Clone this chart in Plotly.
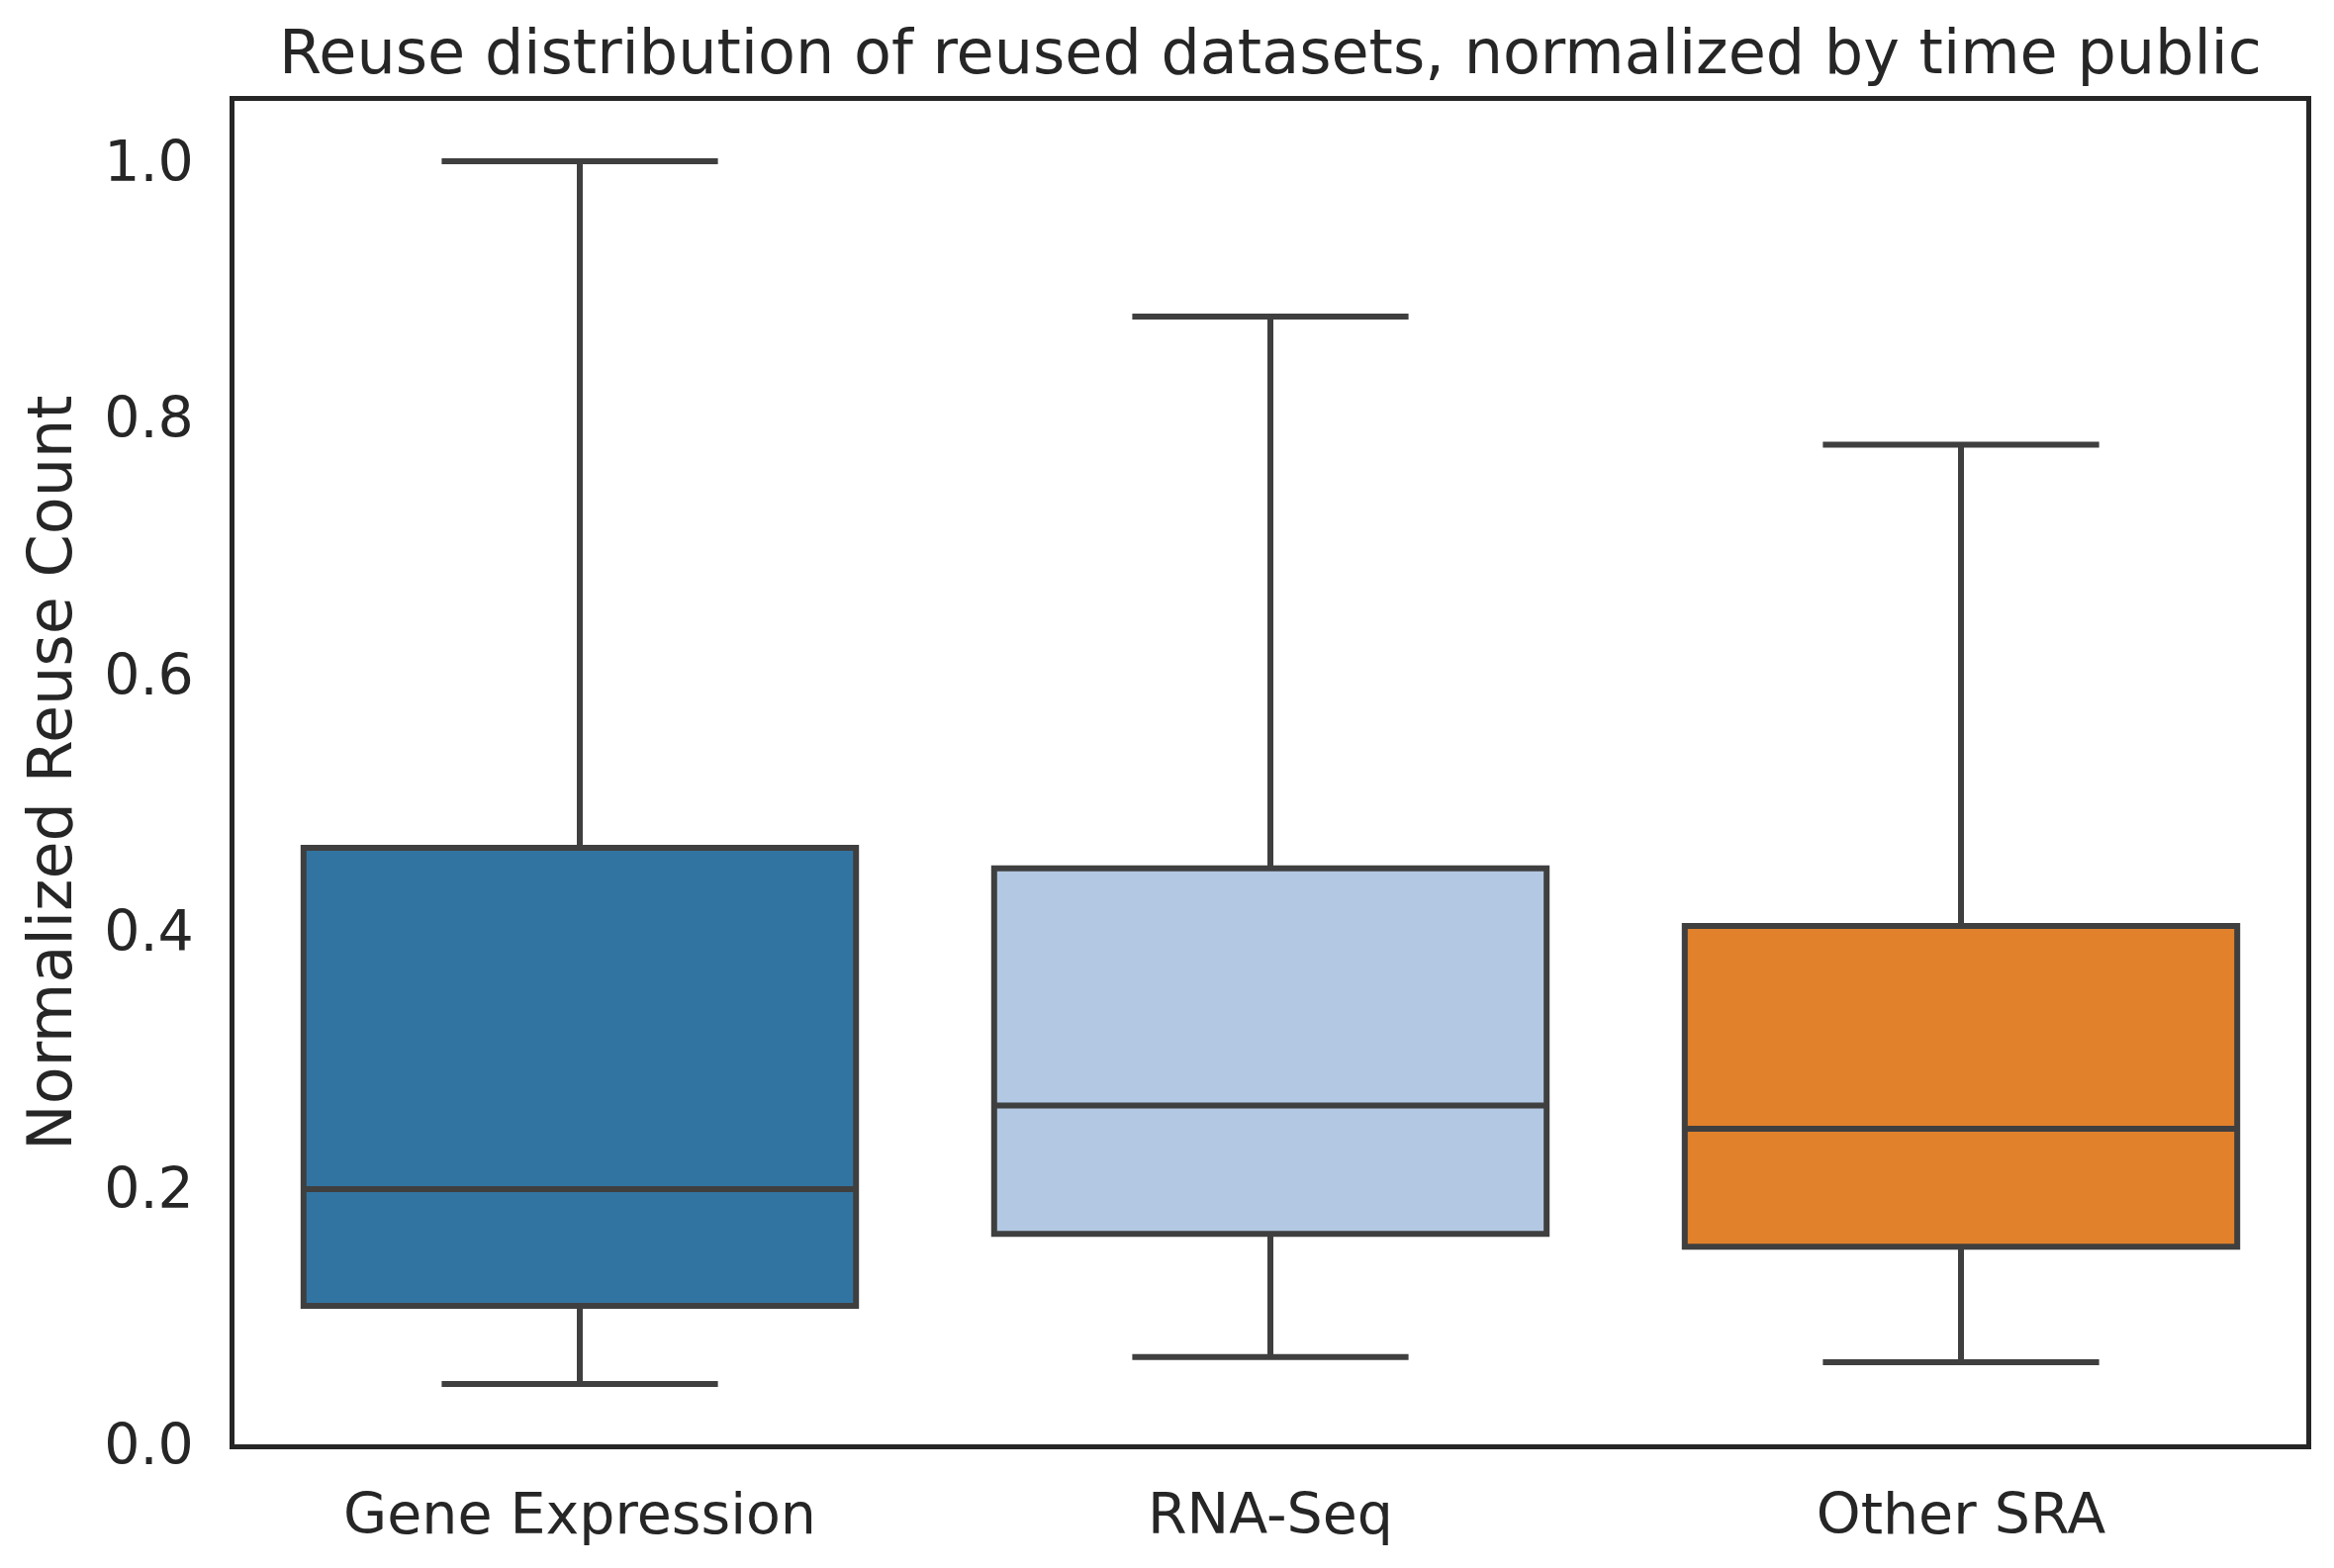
import plotly.graph_objects as go

categories = ['Gene Expression', 'RNA-Seq', 'Other SRA']
lower_fence = [0.047, 0.068, 0.064]
q1 = [0.108, 0.164, 0.154]
median = [0.199, 0.264, 0.246]
q3 = [0.465, 0.449, 0.404]
upper_fence = [1.0, 0.879, 0.779]

colors = ['#3274a1', '#b3c8e2', '#e1812c']
edge = '#3f3f3f'
ink = '#262626'

fig = go.Figure()

for i, cat in enumerate(categories):
    fig.add_trace(go.Box(
        x=[cat],
        q1=[q1[i]],
        median=[median[i]],
        q3=[q3[i]],
        lowerfence=[lower_fence[i]],
        upperfence=[upper_fence[i]],
        name=cat,
        fillcolor=colors[i],
        line=dict(color=edge, width=6),
        whiskerwidth=0.5,
        width=0.8,
        boxpoints=False,
        showlegend=False,
    ))

# the page body adds an 8px offset, so the figure is 8px smaller
fig.update_layout(
    width=2351,
    height=1577,
    margin=dict(l=229, r=28, t=94, b=125),
    paper_bgcolor='white',
    plot_bgcolor='white',
    font=dict(family='DejaVu Sans', size=57, color=ink),
    title=dict(
        text='Reuse distribution of reused datasets, normalized by time public',
        x=0.5, xref='paper', xanchor='center',
        y=1, yref='paper', yanchor='bottom',
        pad=dict(b=28),
        font=dict(size=62, color=ink),
    ),
    xaxis=dict(
        range=[-0.5, 2.5],
        showline=True, mirror=True, linecolor=ink, linewidth=4.5,
        showgrid=False, zeroline=False, ticks='',
        ticklabelstandoff=17,
        tickfont=dict(size=57, color=ink),
    ),
    yaxis=dict(
        title=dict(text='Normalized Reuse Count', font=dict(size=62, color=ink), standoff=14),
        range=[0, 1.047],
        tickvals=[0.0, 0.2, 0.4, 0.6, 0.8, 1.0],
        tickformat='.1f',
        showline=True, mirror=True, linecolor=ink, linewidth=4.5,
        showgrid=False, zeroline=False, ticks='',
        ticklabelstandoff=25,
        tickfont=dict(size=57, color=ink),
    ),
)

fig.write_html("out.html")
